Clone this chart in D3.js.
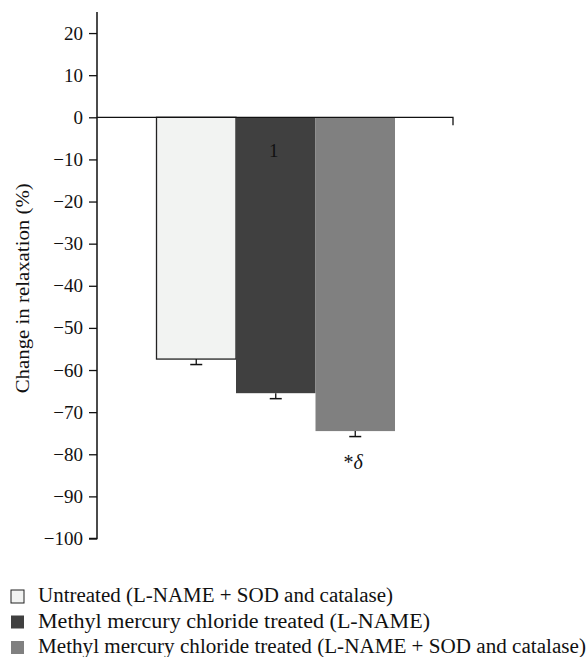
<!DOCTYPE html>
<html>
<head>
<meta charset="utf-8">
<script src="https://cdn.jsdelivr.net/npm/d3@7"></script>
<style>
  body { margin: 0; background: #fff; }
  text { font-family: "Liberation Serif", "DejaVu Serif", serif; fill: #111; }
</style>
</head>
<body>
<svg id="chart"></svg>
<script>
// Data
const groups = ["Untreated (L-NAME + SOD and catalase)",
                "Methyl mercury chloride treated (L-NAME)",
                "Methyl mercury chloride treated (L-NAME + SOD and catalase)"];
const means = [-57.4, -65.5, -74.5];
const errors = [1.3, 1.3, 1.3];
const marks = ["", "1", "*δ"];
const colors = ["#f2f3f2", "#404040", "#808080"];
const yTicks = [20, 10, 0, -10, -20, -30, -40, -50, -60, -70, -80, -90, -100];
const legendWidths = [355, 392, 548];

const width = 587, height = 657;
const svg = d3.select("#chart")
    .attr("width", width)
    .attr("height", height);

// Scales
const yScale = d3.scaleLinear()
    .domain([-100, 25])
    .range([538.5, 12]);

const xScale = d3.scaleBand()
    .domain(d3.range(groups.length))
    .range([156.5, 395])
    .padding(0);

const axisX = 97;

// Y axis
const yAxis = svg.append("g")
    .attr("transform", `translate(${axisX},0)`)
    .call(d3.axisLeft(yScale).tickValues(yTicks).tickSize(8).tickPadding(6)
        .tickFormat(d => d < 0 ? "\u2212" + Math.abs(d) : d));
yAxis.select(".domain")
    .attr("d", `M0,${yScale(25)}V${yScale(-100)}H-8`)
    .attr("stroke", "#111").attr("stroke-width", 1.5);
yAxis.selectAll(".tick line").attr("stroke", "#111").attr("stroke-width", 1.3);
yAxis.selectAll(".tick text").style("font-size", "19px")
    .style("font-family", "Liberation Serif").attr("fill", "#111");

// Bars
svg.selectAll("rect.bar")
    .data(means)
    .enter().append("rect")
    .attr("class", "bar")
    .attr("x", (d, i) => xScale(i))
    .attr("y", yScale(0))
    .attr("width", xScale.bandwidth())
    .attr("height", d => yScale(d) - yScale(0))
    .attr("fill", (d, i) => colors[i])
    .attr("stroke", (d, i) => i === 0 ? "#222" : "none")
    .attr("stroke-width", 1.3);

// Error bars (downward only)
const eb = svg.selectAll("g.err")
    .data(means)
    .enter().append("g")
    .attr("class", "err");
eb.append("line")
    .attr("x1", (d, i) => xScale(i) + xScale.bandwidth() / 2)
    .attr("x2", (d, i) => xScale(i) + xScale.bandwidth() / 2)
    .attr("y1", d => yScale(d))
    .attr("y2", (d, i) => yScale(d - errors[i]))
    .attr("stroke", "#111").attr("stroke-width", 1.3);
eb.append("line")
    .attr("x1", (d, i) => xScale(i) + xScale.bandwidth() / 2 - 6)
    .attr("x2", (d, i) => xScale(i) + xScale.bandwidth() / 2 + 6)
    .attr("y1", (d, i) => yScale(d - errors[i]))
    .attr("y2", (d, i) => yScale(d - errors[i]))
    .attr("stroke", "#111").attr("stroke-width", 1.5);

// Zero line with end tick
svg.append("path")
    .attr("d", `M${axisX},${yScale(0)}H453V${yScale(0) + 8}`)
    .attr("fill", "none")
    .attr("stroke", "#111").attr("stroke-width", 1.3);

// Significance marks
svg.append("text")
    .attr("x", xScale(1) + xScale.bandwidth() / 2 - 2)
    .attr("y", yScale(-9.5))
    .attr("text-anchor", "middle")
    .style("font-size", "19px")
    .text(marks[1]);
svg.append("text")
    .attr("x", xScale(2) + xScale.bandwidth() / 2 - 2)
    .attr("y", yScale(-83.4))
    .attr("text-anchor", "middle")
    .style("font-size", "20px")
    .html('<tspan>*</tspan><tspan font-style="italic">δ</tspan>');

// Y label
svg.append("text")
    .attr("transform", `translate(29,${yScale(-40.6)}) rotate(-90)`)
    .attr("text-anchor", "middle")
    .attr("textLength", 210)
    .attr("lengthAdjust", "spacingAndGlyphs")
    .style("font-size", "19px")
    .text("Change in relaxation (%)");

// Legend
const legend = svg.selectAll("g.legend")
    .data(groups)
    .enter().append("g")
    .attr("class", "legend")
    .attr("transform", (d, i) => `translate(11,${590 + i * 25.5})`);
legend.append("rect")
    .attr("width", 13).attr("height", 13)
    .attr("fill", (d, i) => colors[i])
    .attr("stroke", (d, i) => i === 0 ? "#222" : "none")
    .attr("stroke-width", 1);
legend.append("text")
    .attr("x", 27).attr("y", 12)
    .attr("textLength", (d, i) => legendWidths[i])
    .attr("lengthAdjust", "spacingAndGlyphs")
    .style("font-size", "20px")
    .text(d => d);
</script>
</body>
</html>
